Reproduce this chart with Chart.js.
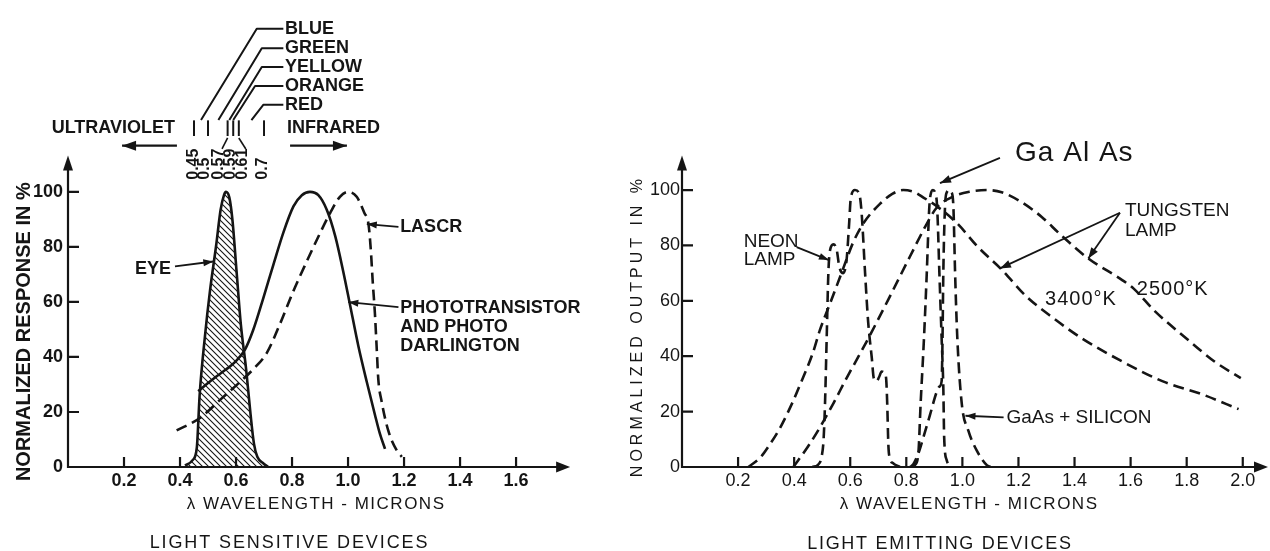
<!DOCTYPE html>
<html lang="en">
<head>
    <meta charset="UTF-8">
    <title>Light Sensitive and Light Emitting Devices</title>
    <script src="https://cdn.jsdelivr.net/npm/chart.js"></script>
    <style>
        body {
            margin: 0;
            background: #fff;
            overflow: hidden;
        }
        #wrap {
            position: relative;
            width: 1270px;
            height: 551px;
        }
        canvas {
            position: absolute;
            top: 0;
        }
        #sensitive { left: 0; }
        #emitting { left: 620px; }
    </style>
</head>
<body>
    <div id="wrap">
        <canvas id="sensitive" width="620" height="551"></canvas>
        <canvas id="emitting" width="650" height="551"></canvas>
    </div>

    <script>
        // ---- Light sensitive devices (wavelength in microns, response in %) ----
        const eyeX = [0.418, 0.445, 0.46, 0.47, 0.489, 0.507, 0.529, 0.545, 0.557, 0.564, 0.576, 0.587, 0.602, 0.617, 0.636, 0.652, 0.664, 0.676, 0.698, 0.715];
        const eyeY = [0.5, 2.5, 7, 26, 47.5, 64, 80.5, 93.5, 98.8, 100, 98, 90, 71, 52, 35.6, 19, 8.5, 3.7, 1.3, 0];

        const photoX = [0.465, 0.5, 0.531, 0.565, 0.595, 0.632, 0.661, 0.698, 0.733, 0.769, 0.805, 0.835, 0.864, 0.894, 0.924, 0.954, 0.983, 1.007, 1.037, 1.067, 1.096, 1.114, 1.132];
        const photoY = [27.5, 30.5, 33, 35.5, 38, 42.7, 49.7, 61.6, 73.4, 85.2, 94.7, 98.8, 100, 98.8, 93.5, 84, 71, 59, 43.9, 30.9, 19, 12, 6.6];

        const lascrX = [0.388, 0.471, 0.543, 0.614, 0.662, 0.71, 0.757, 0.805, 0.852, 0.9, 0.936, 0.971, 1.0, 1.031, 1.058, 1.073, 1.081, 1.088, 1.096, 1.102, 1.108, 1.12, 1.144, 1.174, 1.192];
        const lascrY = [13.3, 17.8, 24.4, 30.9, 35.6, 41.5, 52, 64, 74.6, 85, 92.3, 98.2, 100, 98.2, 92.4, 88.3, 79.4, 67.6, 55.7, 43.9, 32, 23.8, 13.1, 6, 3.7];

        // visible spectrum band above the left plot
        const spectrumTicks = [0.45, 0.5, 0.57, 0.59, 0.61, 0.7];
        const spectrumTickLabels = ['0.45', '0.5', '0.57', '0.59', '0.61', '0.7'];
        const spectrumColors = ['BLUE', 'GREEN', 'YELLOW', 'ORANGE', 'RED'];

        // ---- Light emitting devices (wavelength in microns, output in %) ----
        const lamp3400X = [0.237, 0.28, 0.309, 0.349, 0.395, 0.421, 0.466, 0.492, 0.524, 0.567, 0.587, 0.61, 0.647, 0.706, 0.75, 0.789, 0.83, 0.861, 0.911, 0.982, 1.054, 1.14, 1.226, 1.312, 1.427, 1.57, 1.713, 1.856, 1.985];
        const lamp3400Y = [0, 3.5, 7.5, 14, 23.5, 29.7, 41, 49.5, 58, 69.5, 75, 81, 88, 95, 98.6, 100, 99.2, 97.3, 94, 87.9, 79.6, 71.3, 61.8, 54.7, 46.4, 38.1, 31, 26.2, 20.9];

        const lamp2500X = [0.397, 0.45, 0.492, 0.54, 0.587, 0.63, 0.67, 0.742, 0.813, 0.873, 0.908, 0.968, 1.025, 1.087, 1.14, 1.205, 1.283, 1.348, 1.449, 1.57, 1.61, 1.684, 1.799, 1.899, 1.993];
        const lamp2500Y = [0, 7.5, 14.3, 23, 32.1, 40, 47.5, 61.7, 76, 87.8, 93.6, 97.7, 99.4, 100, 99.2, 96, 90.3, 84.1, 75.3, 67.5, 64.5, 56.5, 46.4, 38.1, 32.1];

        const neonX = [0.465, 0.485, 0.498, 0.505, 0.51, 0.516, 0.522, 0.528, 0.54, 0.552, 0.561, 0.575, 0.587, 0.596, 0.602, 0.617, 0.633, 0.641, 0.653, 0.664, 0.677, 0.684, 0.694, 0.703, 0.712, 0.722, 0.728, 0.732, 0.736, 0.742, 0.754, 0.777];
        const neonY = [0, 0.8, 3.7, 10, 22.7, 46.4, 70, 78.3, 80.4, 78.3, 72.3, 70, 74.8, 87.7, 97.1, 100, 98.3, 91.2, 70, 52.3, 39.3, 32, 31, 32.5, 34.5, 34, 32, 22.7, 8, 3, 1.3, 0];

        const gaalasX = [0.822, 0.831, 0.843, 0.851, 0.863, 0.873, 0.882, 0.889, 0.895, 0.902, 0.91, 0.918, 0.926, 0.932, 0.935, 0.944, 0.962];
        const gaalasY = [0, 0.7, 5, 22.7, 46.4, 70, 93.8, 99.3, 100, 99.3, 93.8, 70, 46.4, 28.6, 10.8, 2.5, 0];

        const gaasSiX = [0.813, 0.825, 0.845, 0.861, 0.885, 0.908, 0.918, 0.926, 0.929, 0.932, 0.938, 0.945, 0.953, 0.961, 0.968, 0.974, 0.982, 0.998, 1.021, 1.051, 1.087, 1.1];
        const gaasSiY = [0, 1, 5.5, 10.8, 19, 27, 29, 31, 45, 70, 93.8, 99.3, 100, 99.3, 93.8, 70, 46.4, 22.7, 13.2, 6, 0.7, 0];

        const INK = '#151515';
        const FONT = '"Liberation Sans", Arial, sans-serif';
        const font = (size, weight) => `${weight || 'normal'} ${size}px ${FONT}`;

        function series(xs, ys) {
            return xs.map((x, i) => ({ x: x, y: ys[i] }));
        }

        function hatchPattern() {
            const c = document.createElement('canvas');
            c.width = 6;
            c.height = 6;
            const g = c.getContext('2d');
            g.strokeStyle = INK;
            g.lineWidth = 1.1;
            g.beginPath();
            g.moveTo(0, 0); g.lineTo(6, 6);
            g.moveTo(-1, 5); g.lineTo(1, 7);
            g.moveTo(5, -1); g.lineTo(7, 1);
            g.stroke();
            return g.createPattern(c, 'repeat');
        }

        const solid = {
            borderColor: INK,
            borderWidth: 2.6,
            pointRadius: 0,
            fill: false,
            cubicInterpolationMode: 'monotone',
            borderJoinStyle: 'round'
        };
        const dashed = Object.assign({}, solid, { borderDash: [11, 6] });

        // filled arrow head pointing from (x1,y1) towards (x2,y2)
        function head(ctx, x1, y1, x2, y2, len, half) {
            const a = Math.atan2(y2 - y1, x2 - x1);
            const c = Math.cos(a), s = Math.sin(a);
            ctx.beginPath();
            ctx.moveTo(x2, y2);
            ctx.lineTo(x2 - len * c + half * s, y2 - len * s - half * c);
            ctx.lineTo(x2 - len * c - half * s, y2 - len * s + half * c);
            ctx.closePath();
            ctx.fill();
        }

        function sketch(notes, axisEnd) {
            return {
                id: 'sketch',
                afterDraw(chart) {
                    const ctx = chart.ctx;
                    const X = v => chart.scales.x.getPixelForValue(v);
                    const Y = v => chart.scales.y.getPixelForValue(v);
                    const d = {
                        ctx, X, Y,
                        text(str, x, y, f, align, spacing, rotate) {
                            ctx.save();
                            ctx.font = f;
                            ctx.letterSpacing = (spacing || 0) + 'px';
                            ctx.textAlign = align || 'left';
                            ctx.textBaseline = 'middle';
                            ctx.translate(X(x), Y(y));
                            if (rotate) ctx.rotate(rotate);
                            ctx.fillText(str, 0, 0);
                            ctx.restore();
                        },
                        path(pts, width) {
                            ctx.lineWidth = width;
                            ctx.beginPath();
                            pts.forEach(([x, y], i) => i ? ctx.lineTo(X(x), Y(y)) : ctx.moveTo(X(x), Y(y)));
                            ctx.stroke();
                        },
                        arrow(pts, width, len, half) {
                            this.path(pts, width);
                            const [x1, y1] = pts[pts.length - 2];
                            const [x2, y2] = pts[pts.length - 1];
                            head(ctx, X(x1), Y(y1), X(x2), Y(y2), len, half);
                        }
                    };
                    ctx.save();
                    ctx.fillStyle = INK;
                    ctx.strokeStyle = INK;
                    ctx.lineJoin = 'round';

                    // axes with arrows and inside tick marks
                    const x0 = X(0), y0 = Y(0), xe = X(axisEnd.x), ye = Y(axisEnd.y);
                    ctx.lineWidth = 2.2;
                    ctx.beginPath();
                    ctx.moveTo(x0 - 1.1, y0); ctx.lineTo(xe - 8, y0);
                    ctx.moveTo(x0, y0); ctx.lineTo(x0, ye + 8);
                    chart.scales.x.ticks.forEach(t => {
                        if (t.label && t.value > 0.01) { ctx.moveTo(X(t.value), y0); ctx.lineTo(X(t.value), y0 - 10); }
                    });
                    chart.scales.y.ticks.forEach(t => {
                        if (t.label && t.value > 0) { ctx.moveTo(x0, Y(t.value)); ctx.lineTo(x0 + 11, Y(t.value)); }
                    });
                    ctx.stroke();
                    head(ctx, xe - 20, y0, xe, y0, 14, 5.5);
                    head(ctx, x0, ye + 20, x0, ye, 15, 5);

                    notes(d);
                    ctx.restore();
                }
            };
        }

        function sensitiveNotes(d) {
            const lab = font(18, 'bold');
            const bandLabelX = [0.45, 0.489, 0.536, 0.579, 0.625, 0.696];
            const colorY = [159.3, 152.2, 145.4, 138.5, 131.7];
            const colorCorner = [0.674, 0.692, 0.692, 0.668, 0.698];
            const colorEnd = [0.475, 0.537, 0.576, 0.59, 0.655];

            d.text('ULTRAVIOLET', 0.382, 123.2, lab, 'right');
            d.text('INFRARED', 0.782, 123.2, lab);
            d.arrow([[0.389, 116.8], [0.193, 116.8]], 2.4, 14, 5);
            d.arrow([[0.793, 116.8], [0.996, 116.8]], 2.4, 14, 5);
            spectrumTicks.forEach(v => d.path([[v, 126], [v, 120.3]], 2));
            spectrumTickLabels.forEach((s, i) => d.text(s, bandLabelX[i], 104.4, font(16, 'bold'), 'left', 0, -Math.PI / 2));
            d.path([[0.57, 119.6], [0.55, 115.6]], 1.6);
            d.path([[0.61, 119.6], [0.635, 115.6]], 1.6);
            spectrumColors.forEach((s, i) => {
                d.path([[0.769, colorY[i]], [colorCorner[i], colorY[i]], [colorEnd[i], 126.1]], 2);
                d.text(s, 0.775, colorY[i], lab);
            });

            d.text('EYE', 0.239, 72.1, lab);
            d.arrow([[0.382, 72.9], [0.519, 74.7]], 1.8, 10, 3.5);
            d.text('LASCR', 1.186, 87.1, lab);
            d.arrow([[1.18, 87.3], [1.067, 88.3]], 1.8, 10, 3.5);
            ['PHOTOTRANSISTOR', 'AND PHOTO', 'DARLINGTON'].forEach((s, i) => d.text(s, 1.186, 57.9 - 6.9 * i, lab));
            d.arrow([[1.18, 58.1], [1.001, 59.9]], 1.8, 10, 3.5);

            d.text('NORMALIZED RESPONSE IN %', -0.157, 49.2, font(20, 'bold'), 'center', 0, -Math.PI / 2);
            d.text('\u03BB WAVELENGTH - MICRONS', 0.886, -13.5, font(17), 'center', 1.5);
            d.text('LIGHT SENSITIVE DEVICES', 0.791, -27.7, font(18), 'center', 1.9);
        }

        function emittingNotes(d) {
            const lab = font(19);
            d.text('Ga Al As', 1.188, 113.2, font(28), 'left', 1);
            d.arrow([[1.134, 111.6], [0.92, 102.5]], 1.8, 11, 4);
            d.text('TUNGSTEN', 1.58, 92.4, lab);
            d.text('LAMP', 1.58, 85.3, lab);
            d.arrow([[1.562, 91.8], [1.134, 71.7]], 1.8, 11, 4);
            d.arrow([[1.562, 91.8], [1.449, 75.3]], 1.8, 11, 4);
            d.text('3400\u00B0K', 1.295, 60.5, font(20), 'left', 1);
            d.text('2500\u00B0K', 1.622, 64.0, font(20), 'left', 1);
            d.text('NEON', 0.22, 81.5, lab);
            d.text('LAMP', 0.22, 74.7, lab);
            d.arrow([[0.409, 79.4], [0.524, 74.7]], 1.8, 10, 3.5);
            d.text('GaAs + SILICON', 1.157, 17.9, lab);
            d.arrow([[1.147, 17.9], [1.011, 18.5]], 1.8, 10, 3.5);

            d.text('NORMALIZED OUTPUT IN %', -0.157, 50.9, font(16), 'center', 4, -Math.PI / 2);
            d.text('\u03BB WAVELENGTH - MICRONS', 1.024, -13.5, font(17), 'center', 1.5);
            d.text('LIGHT EMITTING DEVICES', 0.92, -27.7, font(18), 'center', 1.7);
        }

        function buildChart(id, cfg) {
            return new Chart(document.getElementById(id), {
                type: 'line',
                data: { datasets: cfg.datasets },
                options: {
                    responsive: false,
                    animation: false,
                    layout: { padding: { top: 5, right: 2, left: 0, bottom: 0 } },
                    plugins: { legend: { display: false }, tooltip: { enabled: false } },
                    elements: { point: { radius: 0 } },
                    scales: {
                        x: {
                            type: 'linear',
                            min: 0,
                            max: cfg.xMax,
                            border: { display: false },
                            grid: { display: false, drawTicks: false },
                            afterFit: s => { s.height = 84; },
                            ticks: {
                                stepSize: 0.2,
                                includeBounds: false,
                                autoSkip: false,
                                maxRotation: 0,
                                padding: 3,
                                color: INK,
                                font: cfg.tickFont,
                                callback: v => (v > 0.01 && v < cfg.xLabelMax + 0.01) ? v.toFixed(1) : ''
                            }
                        },
                        y: {
                            type: 'linear',
                            min: 0,
                            max: 164,
                            border: { display: false },
                            grid: { display: false, drawTicks: false },
                            afterFit: s => { s.width = cfg.yWidth; },
                            ticks: {
                                stepSize: 20,
                                includeBounds: false,
                                autoSkip: false,
                                padding: cfg.yPad,
                                color: INK,
                                font: cfg.tickFont,
                                callback: v => v <= 100 ? String(v) : ''
                            }
                        }
                    }
                },
                plugins: [sketch(cfg.notes, cfg.axisEnd)]
            });
        }

        buildChart('sensitive', {
            xMax: 1.964,
            xLabelMax: 1.6,
            yWidth: 68,
            yPad: 5,
            tickFont: { family: FONT, size: 18, weight: 'bold' },
            axisEnd: { x: 1.793, y: 113.2 },
            notes: sensitiveNotes,
            datasets: [
                Object.assign({}, solid, { data: series(eyeX, eyeY), fill: 'origin', backgroundColor: hatchPattern() }),
                Object.assign({}, solid, { data: series(photoX, photoY) }),
                Object.assign({}, dashed, { data: series(lascrX, lascrY) })
            ]
        });

        buildChart('emitting', {
            xMax: 2.09,
            xLabelMax: 2.0,
            yWidth: 62,
            yPad: 2,
            tickFont: { family: FONT, size: 18 },
            axisEnd: { x: 2.09, y: 112.5 },
            notes: emittingNotes,
            datasets: [
                Object.assign({}, dashed, { data: series(lamp3400X, lamp3400Y) }),
                Object.assign({}, dashed, { data: series(lamp2500X, lamp2500Y) }),
                Object.assign({}, dashed, { data: series(neonX, neonY) }),
                Object.assign({}, dashed, { data: series(gaalasX, gaalasY) }),
                Object.assign({}, dashed, { data: series(gaasSiX, gaasSiY) })
            ]
        });
    </script>
</body>
</html>
